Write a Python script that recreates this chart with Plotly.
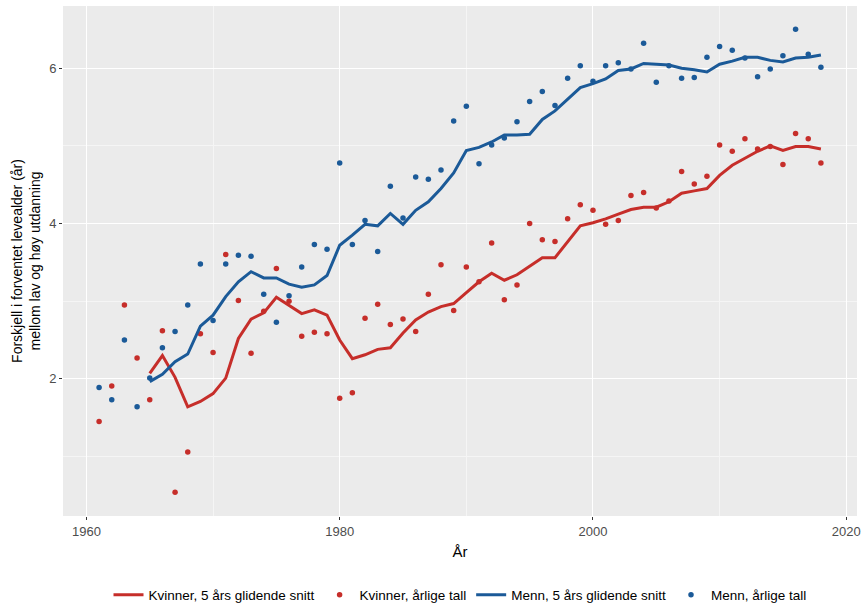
import plotly.graph_objects as go

years = list(range(1961, 2019))
ma_years = list(range(1965, 2019))

kvinner_aar = [1.45, 1.91, 2.95, 2.27, 1.73, 2.62, 0.54, 1.06, 2.58, 2.34,
               3.60, 3.01, 2.33, 2.87, 3.42, 3.00, 2.55, 2.60, 2.58, 1.75,
               1.82, 2.78, 2.96, 2.70, 2.77, 2.61, 3.09, 3.47, 2.88, 3.44,
               3.25, 3.75, 3.02, 3.21, 4.00, 3.79, 3.77, 4.06, 4.24, 4.17,
               3.99, 4.04, 4.36, 4.40, 4.20, 4.29, 4.67, 4.51, 4.61, 5.01,
               4.93, 5.09, 4.96, 4.99, 4.76, 5.16, 5.09, 4.78]

menn_aar = [1.89, 1.73, 2.50, 1.64, 2.01, 2.40, 2.61, 2.95, 3.48, 2.75,
            3.48, 3.59, 3.58, 3.09, 2.73, 3.07, 3.44, 3.73, 3.67, 4.78,
            3.73, 4.04, 3.64, 4.48, 4.07, 4.60, 4.57, 4.69, 5.32, 5.51,
            4.77, 5.01, 5.10, 5.31, 5.57, 5.70, 5.52, 5.87, 6.03, 5.83,
            6.03, 6.07, 5.99, 6.32, 5.82, 6.03, 5.87, 5.88, 6.14, 6.28,
            6.23, 6.13, 5.89, 5.99, 6.16, 6.50, 6.18, 6.01]

kvinner_snitt = [2.07, 2.30, 2.02, 1.64, 1.71, 1.81, 2.01, 2.52, 2.77, 2.85,
                 3.05, 2.94, 2.84, 2.89, 2.82, 2.50, 2.26, 2.31, 2.38, 2.40,
                 2.59, 2.76, 2.86, 2.93, 2.97, 3.11, 3.25, 3.36, 3.27, 3.34,
                 3.45, 3.56, 3.56, 3.77, 3.97, 4.01, 4.06, 4.12, 4.18, 4.21,
                 4.21, 4.28, 4.39, 4.42, 4.45, 4.62, 4.75, 4.84, 4.93, 5.00,
                 4.94, 4.99, 4.99, 4.96]

menn_snitt = [1.965, 2.06, 2.22, 2.32, 2.68, 2.82, 3.06, 3.25, 3.38, 3.30,
              3.30, 3.22, 3.18, 3.21, 3.33, 3.72, 3.85, 3.99, 3.97, 4.13,
              3.99, 4.17, 4.28, 4.45, 4.65, 4.94, 4.98, 5.05, 5.14, 5.14,
              5.15, 5.34, 5.45, 5.60, 5.75, 5.80, 5.86, 5.97, 5.99, 6.06,
              6.05, 6.04, 6.00, 5.98, 5.95, 6.05, 6.09, 6.14, 6.14, 6.10,
              6.08, 6.13, 6.14, 6.17]

x_ticks = [1960, 1980, 2000, 2020]
y_ticks = [2, 4, 6]

RED = "#C62E2A"
BLUE = "#1B5A98"
FONT = "Liberation Sans, Arial, sans-serif"

fig = go.Figure()
fig.add_trace(go.Scatter(x=ma_years, y=kvinner_snitt, mode="lines",
                         line=dict(color=RED, width=3),
                         name="Kvinner, 5 års glidende snitt"))
fig.add_trace(go.Scatter(x=years, y=kvinner_aar, mode="markers",
                         marker=dict(color=RED, size=5.5),
                         name="Kvinner, årlige tall"))
fig.add_trace(go.Scatter(x=ma_years, y=menn_snitt, mode="lines",
                         line=dict(color=BLUE, width=3),
                         name="Menn, 5 års glidende snitt"))
fig.add_trace(go.Scatter(x=years, y=menn_aar, mode="markers",
                         marker=dict(color=BLUE, size=5.5),
                         name="Menn, årlige tall"))

fig.update_layout(
    width=862, height=604,
    margin=dict(l=63, r=5, t=6, b=88, autoexpand=False),
    paper_bgcolor="white",
    plot_bgcolor="#EBEBEB",
    font=dict(family=FONT, color="black", size=13),
    showlegend=True,
    legend=dict(orientation="h", x=0.5, xanchor="center", y=-0.155,
                yanchor="middle", font=dict(size=13.5, color="black"),
                itemwidth=30, tracegroupgap=0),
)
fig.update_xaxes(
    range=[1958.15, 2020.85], tickvals=x_ticks, automargin=False,
    showgrid=True, gridcolor="white", gridwidth=1.3,
    minor=dict(tickvals=[1970, 1990, 2010], showgrid=True,
               gridcolor="#F5F5F5", gridwidth=0.7, ticks=""),
    zeroline=False, showline=False,
    ticks="outside", ticklen=3, tickcolor="#333333", tickwidth=1.1,
    tickfont=dict(size=13, color="#4D4D4D"),
    title=dict(text="År", font=dict(size=15, color="black"), standoff=8),
)
fig.update_yaxes(
    range=[0.235, 6.80], tickvals=y_ticks, automargin=False,
    showgrid=True, gridcolor="white", gridwidth=1.3,
    minor=dict(tickvals=[1, 3, 5], showgrid=True,
               gridcolor="#F5F5F5", gridwidth=0.7, ticks=""),
    zeroline=False, showline=False,
    ticks="outside", ticklen=3, tickcolor="#333333", tickwidth=1.1,
    tickfont=dict(size=13, color="#4D4D4D"),
    title=dict(text="Forskjell i forventet levealder (år)<br>mellom lav og høy utdanning",
               font=dict(size=14, color="black"), standoff=5),
)

fig.write_html("out.html",
               config={"displayModeBar": False},
               post_script="document.body.style.margin='0';document.body.style.overflow='hidden';")
